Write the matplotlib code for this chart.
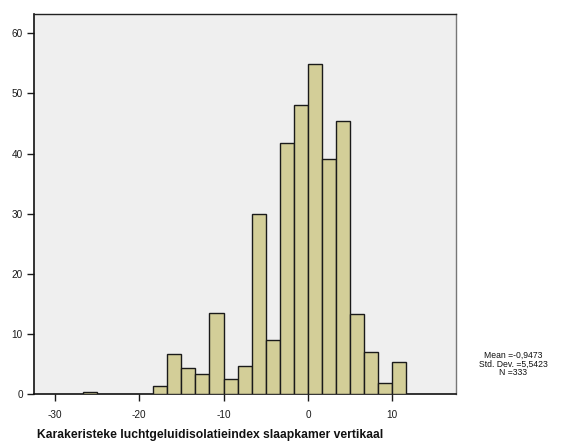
import numpy as np
import matplotlib
matplotlib.use("Agg")
import matplotlib.pyplot as plt

plt.rcParams['font.family'] = ['Liberation Sans', 'DejaVu Sans']

# Histogram data (bin width 5/3, left edges) and weighted frequencies
bin_width = 5.0 / 3.0
bin_left = [-80/3, -55/3, -50/3, -45/3, -40/3, -35/3, -30/3, -25/3, -20/3,
            -15/3, -10/3, -5/3, 0.0, 5/3, 10/3, 15/3, 20/3, 25/3, 30/3]
counts = [0.45, 1.38, 6.65, 4.37, 3.43, 13.57, 2.49, 4.76, 29.9,
          9.03, 41.7, 48.1, 54.85, 39.1, 45.5, 13.35, 7.08, 1.83, 5.42]

x_ticks = [-30, -20, -10, 0, 10]
y_ticks = [0, 10, 20, 30, 40, 50, 60]
x_label = "Karakeristeke luchtgeluidisolatieindex slaapkamer vertikaal"
stats_text = "Mean =-0,9473\nStd. Dev. =5,5423\nN =333"

fig = plt.figure(figsize=(5.76, 4.41), dpi=100)
ax = fig.add_axes([34/576, 1 - 394.3/441, (455.7 - 34)/576, (394.3 - 14)/441])
ax.set_facecolor('#efefef')

ax.bar(bin_left, counts, width=bin_width, align='edge',
       color='#d3ce98', edgecolor='#1a1a1a', linewidth=1.0, zorder=3)

ax.set_xlim(-32.45, 17.5)
ax.set_ylim(0, 63.2)
ax.set_xticks(x_ticks)
ax.set_xticklabels([str(t) for t in x_ticks])
ax.set_yticks(y_ticks)
ax.set_yticklabels([str(t) for t in y_ticks])
ax.tick_params(axis='both', direction='out', length=5, width=1.0,
               labelsize=7.2, colors='#1a1a1a')
ax.tick_params(axis='x', pad=6)
ax.tick_params(axis='y', pad=3)

for side in ['left', 'bottom']:
    ax.spines[side].set_color('#111111')
    ax.spines[side].set_linewidth(1.2)
ax.spines['top'].set_color('#222222')
ax.spines['top'].set_linewidth(1.0)
ax.spines['right'].set_color('#777777')
ax.spines['right'].set_linewidth(1.0)

fig.text(210/576, 1 - 435/441, x_label, ha='center', va='center',
         fontsize=8.7, fontweight='bold', color='#111111')
fig.text(513/576, 1 - 364/441, stats_text, ha='center', va='center',
         multialignment='center', fontsize=6.2, color='#111111', linespacing=0.95)

fig.savefig('out.png', dpi=100)
